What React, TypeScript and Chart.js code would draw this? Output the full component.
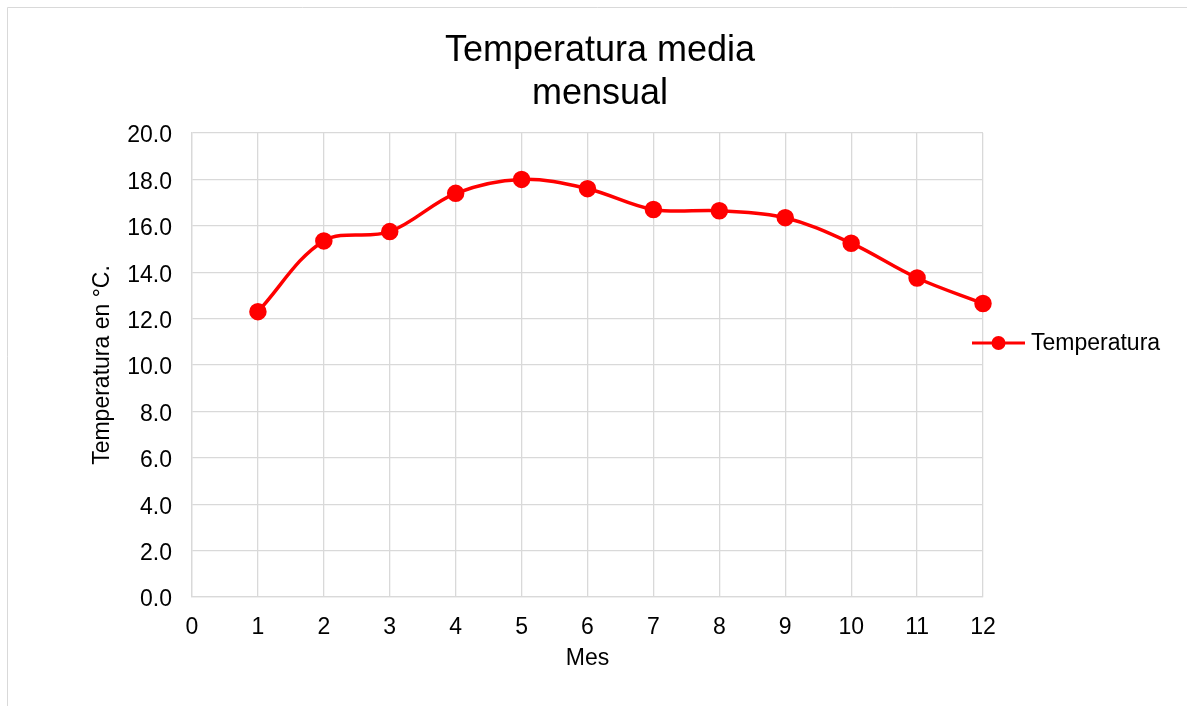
import React, { useEffect, useRef } from "react";
import { Chart, registerables } from "chart.js";

Chart.register(...registerables);

const titleLines = ["Temperatura media", "mensual"];
const xAxisTitle = "Mes";
const yAxisTitle = "Temperatura en °C.";
const seriesLabel = "Temperatura";
const months = [1, 2, 3, 4, 5, 6, 7, 8, 9, 10, 11, 12];
const temperatures = [12.3, 15.35, 15.75, 17.4, 18.0, 17.6, 16.7, 16.65, 16.35, 15.25, 13.75, 12.65];

const FONT = "'Liberation Sans', Arial, sans-serif";
const RED = "#ff0000";
const GRID = "#d9d9d9";

const framePlugin = {
  id: "frame",
  beforeDraw(chart: any) {
    const { ctx, width, height } = chart;
    ctx.save();
    ctx.fillStyle = "#ffffff";
    ctx.fillRect(0, 0, width, height);
    ctx.strokeStyle = "#d9d9d9";
    ctx.lineWidth = 1;
    ctx.beginPath();
    ctx.moveTo(7.5, height);
    ctx.lineTo(7.5, 7.5);
    ctx.lineTo(width, 7.5);
    ctx.stroke();
    ctx.restore();
  },
  afterDraw(chart: any) {
    const { ctx } = chart;
    ctx.save();
    // title
    ctx.fillStyle = "#000";
    ctx.font = `36px ${FONT}`;
    ctx.textAlign = "center";
    ctx.textBaseline = "middle";
    titleLines.forEach((t, i) => ctx.fillText(t, 600, 51 + i * 43));
    // legend
    const y = 343;
    ctx.strokeStyle = RED;
    ctx.lineWidth = 3;
    ctx.beginPath();
    ctx.moveTo(972, y);
    ctx.lineTo(1025, y);
    ctx.stroke();
    ctx.fillStyle = RED;
    ctx.beginPath();
    ctx.arc(998.5, y, 7, 0, Math.PI * 2);
    ctx.fill();
    ctx.fillStyle = "#000";
    ctx.font = `23px ${FONT}`;
    ctx.textAlign = "left";
    ctx.fillText(chart.data.datasets[0].label, 1031, y + 1);
    ctx.restore();
  },
};

export default function App() {
  const ref = useRef<HTMLCanvasElement>(null);
  useEffect(() => {
    const canvas = ref.current!;
    const chart = new Chart(canvas, {
      type: "line",
      data: {
        datasets: [
          {
            label: seriesLabel,
            data: months.map((m, i) => ({ x: m, y: temperatures[i] })),
            borderColor: RED,
            backgroundColor: RED,
            borderWidth: 3.5,
            pointRadius: 7,
            pointHoverRadius: 7,
            pointBackgroundColor: RED,
            pointBorderColor: RED,
            tension: 0.35,
            cubicInterpolationMode: "default",
            clip: false,
          },
        ],
      },
      options: {
        responsive: false,
        animation: false,
        layout: { padding: { top: 133, right: 204, left: 0, bottom: 0 } },
        plugins: { legend: { display: false }, title: { display: false }, tooltip: { enabled: false } },
        scales: {
          x: {
            type: "linear",
            min: 0,
            max: 12,
            afterFit: (s: any) => { s.height = 109; },
            ticks: { stepSize: 1, color: "#000", font: { family: FONT, size: 23 }, padding: 17 },
            grid: { color: GRID, lineWidth: 1.3, drawTicks: false },
            border: { color: GRID, width: 1.3 },
            title: { display: true, text: xAxisTitle, color: "#000", font: { family: FONT, size: 23 }, padding: { top: 0, bottom: 34 } },
          },
          y: {
            min: 0,
            max: 20,
            afterFit: (s: any) => { s.width = 192; },
            ticks: { stepSize: 2, color: "#000", font: { family: FONT, size: 23 }, padding: 20, labelOffset: 3, callback: (v: any) => Number(v).toFixed(1) },
            grid: { color: GRID, lineWidth: 1.3, drawTicks: false },
            border: { color: GRID, width: 1.3 },
            title: { display: true, text: yAxisTitle, color: "#000", font: { family: FONT, size: 23 }, padding: { top: 89, bottom: 0 } },
          },
        },
      },
      plugins: [framePlugin],
    } as any);
    return () => chart.destroy();
  }, []);
  return (
    <div style={{ position: "fixed", left: 0, top: 0, width: 1187, height: 706 }}>
      <canvas ref={ref} width={1187} height={706} style={{ display: "block", width: 1187, height: 706 }} />
    </div>
  );
}
